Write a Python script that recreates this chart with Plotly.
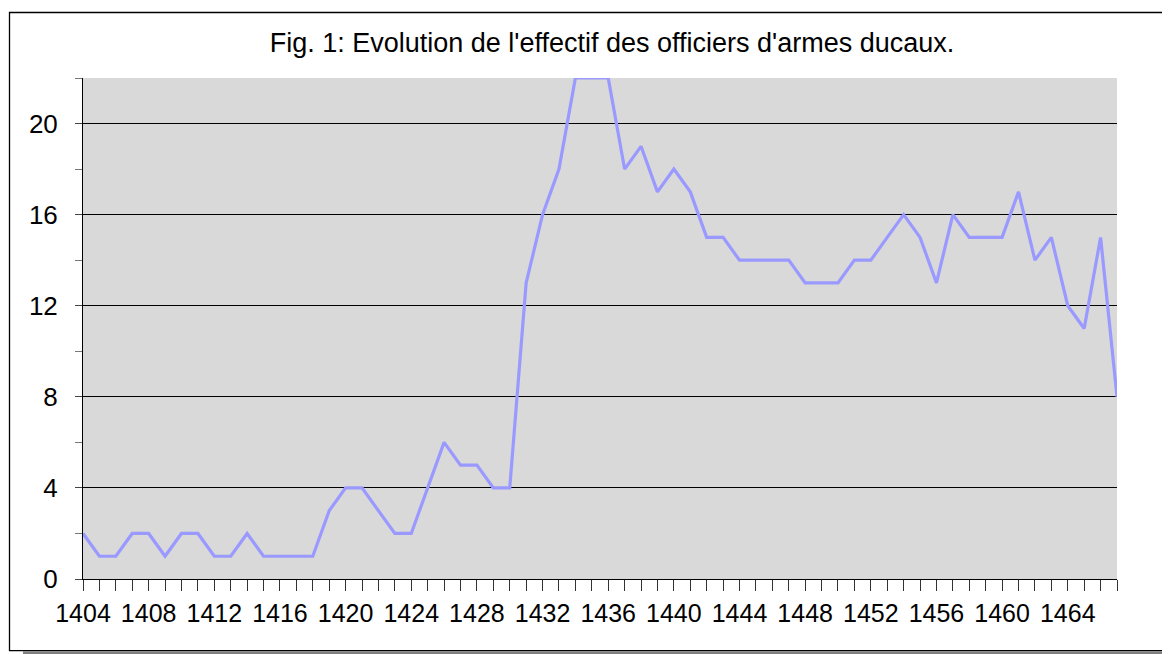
import plotly.graph_objects as go

title_text = "Fig. 1: Evolution de l'effectif des officiers d'armes ducaux."

years = list(range(1404, 1468))
officers = [
    2, 1, 1, 2, 2, 1, 2, 2, 1, 1,      # 1404-1413
    2, 1, 1, 1, 1, 3, 4, 4, 3, 2,      # 1414-1423
    2, 4, 6, 5, 5, 4, 4, 13, 16, 18,   # 1424-1433
    22, 22, 22, 18, 19, 17, 18, 17, 15, 15,  # 1434-1443
    14, 14, 14, 14, 13, 13, 13, 14, 14, 15,  # 1444-1453
    16, 15, 13, 16, 15, 15, 15, 17, 14, 15,  # 1454-1463
    12, 11, 15, 8,                     # 1464-1467
]

x_tick_vals = list(range(1404, 1465, 4))
y_tick_vals = [0, 4, 8, 12, 16, 20]

FONT = "Liberation Sans, Arial, sans-serif"

# the page body adds an 8 px offset; work in window pixels and subtract it
OFF = 8
W, H = 1170 - OFF, 654 - OFF
L, T = 83 - OFF, 78 - OFF
R = W - (1117 - OFF)
B = H - (579 - OFF)
pw, ph = W - L - R, H - T - B

def px_x(x):
    return (x - OFF - L) / pw

def px_y(y):
    return (H - B - (y - OFF)) / ph

fig = go.Figure()
fig.add_trace(go.Scatter(
    x=years, y=officers, mode="lines",
    line=dict(color="#9999FF", width=3.2),
    hoverinfo="x+y", showlegend=False,
))

fig.update_layout(
    width=W, height=H,
    margin=dict(l=L, r=R, t=T, b=B),
    paper_bgcolor="white",
    plot_bgcolor="#D9D9D9",
    font=dict(family=FONT, color="black", size=24),
    title=dict(
        text=title_text,
        x=(612 - OFF) / W, xref="container", xanchor="center",
        y=1 - (43 - OFF) / H, yref="container", yanchor="middle",
        font=dict(family=FONT, size=27, color="black"),
    ),
    xaxis=dict(
        range=[1404, 1467],
        tickmode="array", tickvals=x_tick_vals,
        ticks="outside", ticklen=11, tickcolor="#333333", tickwidth=1,
        minor=dict(dtick=1, tick0=1404, ticks="outside", ticklen=11,
                   tickcolor="#333333", tickwidth=1, showgrid=False),
        showgrid=False, zeroline=False,
        showline=True, linecolor="black", linewidth=1,
        tickfont=dict(family=FONT, size=25, color="black"),
        ticklabelstandoff=1,
    ),
    yaxis=dict(
        range=[0, 22],
        tickmode="array", tickvals=y_tick_vals,
        ticks="outside", ticklen=7, tickcolor="#444444", tickwidth=1,
        minor=dict(dtick=2, tick0=0, ticks="outside", ticklen=7,
                   tickcolor="#777777", tickwidth=1, showgrid=False),
        showgrid=True, gridcolor="black", gridwidth=1,
        zeroline=False,
        showline=True, linecolor="black", linewidth=1,
        tickfont=dict(family=FONT, size=26, color="black"),
        ticklabelstandoff=12,
    ),
    shapes=[
        # shadow under the frame
        dict(type="rect", xref="paper", yref="paper",
             x0=px_x(23), x1=px_x(1175), y0=px_y(654), y1=px_y(651.5),
             line=dict(width=0), fillcolor="#7f7f7f", layer="below"),
        # outer frame
        dict(type="rect", xref="paper", yref="paper",
             x0=px_x(9.5), x1=px_x(1180), y0=px_y(650.7), y1=px_y(12.5),
             line=dict(color="black", width=1.3), fillcolor="rgba(0,0,0,0)",
             layer="below"),
    ],
)

fig.write_html("out.html")
